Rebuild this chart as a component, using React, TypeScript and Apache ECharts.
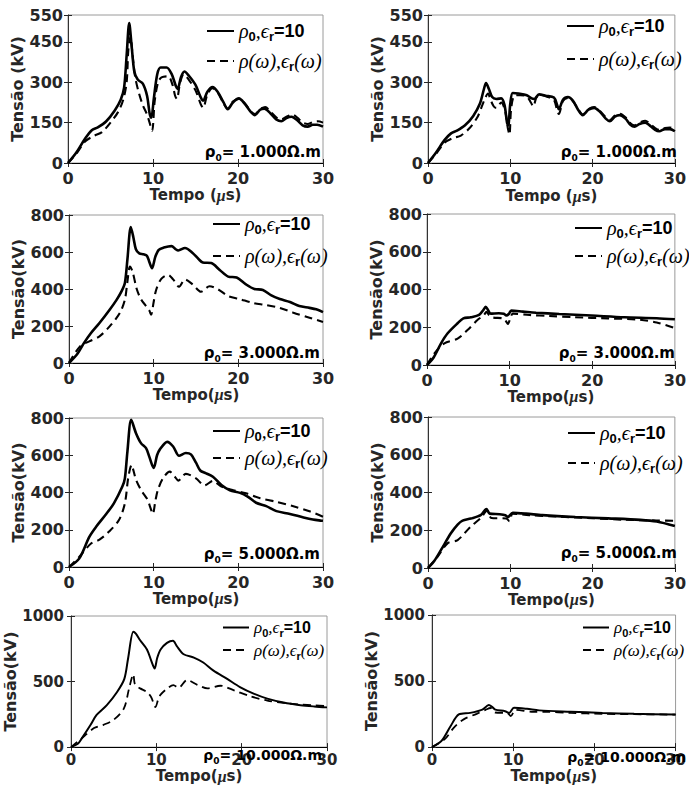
import React, { useEffect, useRef } from "react";
import * as echarts from "echarts";

// ---------- DATA (time in µs, voltage in kV) ----------
const X_TICKS = [0, 10, 20, 30];

const P1L_SOLID = [[0,0],[1,40],[2,90],[2.8,122],[3.5,132],[4.5,155],[5.5,195],[6.2,235],[6.6,280],[6.9,400],[7.2,520],[7.5,430],[7.8,340],[8.2,310],[8.8,295],[9.3,250],[9.6,185],[9.8,168],[10.1,240],[10.5,330],[10.9,355],[11.6,355],[12.2,330],[12.7,285],[12.9,275],[13.3,320],[13.7,340],[14.2,325],[15,290],[15.6,245],[15.9,232],[16.4,265],[17,282],[17.6,265],[18.3,225],[18.8,200],[19.4,225],[20.1,240],[20.8,220],[21.5,190],[22,178],[22.6,198],[23.1,202],[23.8,185],[24.5,162],[25.1,155],[25.7,167],[26.3,172],[27,158],[27.6,140],[28.2,135],[28.8,142],[29.3,142],[30,135]];
const P1L_DASHED = [[0,0],[1,35],[2,80],[3,100],[4,115],[5,150],[5.9,190],[6.5,235],[6.9,300],[7.1,420],[7.35,470],[7.6,400],[7.9,320],[8.3,265],[8.8,215],[9.3,180],[9.6,150],[9.9,120],[10.2,230],[10.6,300],[11,318],[11.8,322],[12.3,290],[12.6,250],[12.8,238],[13.2,300],[13.6,330],[14.2,310],[15,270],[15.6,220],[15.9,205],[16.4,255],[17,278],[17.6,262],[18.3,222],[18.8,202],[19.4,228],[20.1,238],[20.8,222],[21.5,192],[22,182],[22.6,200],[23.2,208],[23.8,192],[24.5,170],[25.1,162],[25.7,172],[26.4,180],[27,168],[27.6,150],[28.2,145],[28.8,152],[29.4,155],[30,150]];

const P1R_SOLID = [[0,0],[1,40],[2,85],[2.8,110],[3.5,120],[4.5,140],[5.5,175],[6.3,220],[6.8,275],[7.05,297],[7.4,275],[7.8,245],[8.3,238],[8.9,240],[9.3,215],[9.6,150],[9.75,140],[10,220],[10.3,260],[11,258],[12,252],[12.6,240],[12.9,238],[13.5,255],[14.3,250],[15.3,243],[15.7,215],[15.9,200],[16.4,235],[17,245],[17.6,232],[18.3,195],[18.8,178],[19.5,198],[20.2,205],[20.9,190],[21.6,165],[22.1,155],[22.7,172],[23.3,178],[24,165],[24.6,142],[25.1,135],[25.7,145],[26.4,150],[27,138],[27.6,123],[28.1,118],[28.8,126],[29.4,126],[30,118]];
const P1R_DASHED = [[0,0],[1,35],[2,75],[3,92],[4,102],[5,128],[6,170],[6.6,215],[7,245],[7.3,258],[7.6,235],[8,210],[8.3,205],[8.9,225],[9.4,190],[9.7,130],[9.9,105],[10.1,200],[10.5,250],[11.2,252],[12,248],[12.5,225],[12.8,210],[13.2,245],[13.8,252],[14.6,245],[15.3,235],[15.7,195],[15.9,182],[16.4,230],[17,242],[17.6,230],[18.3,198],[18.8,180],[19.5,200],[20.2,208],[20.9,193],[21.6,170],[22.1,160],[22.7,176],[23.3,183],[24,170],[24.6,148],[25.1,140],[25.7,150],[26.4,157],[27,145],[27.6,130],[28.1,123],[28.8,130],[29.4,132],[30,125]];

const P2L_SOLID = [[0,0],[1,50],[1.8,110],[2.6,162],[3.6,216],[4.8,288],[5.6,340],[6.2,387],[6.6,432],[6.9,560],[7.3,735],[7.6,680],[7.9,615],[8.3,593],[8.8,588],[9.2,580],[9.5,545],[9.8,512],[10.2,575],[10.6,612],[11.2,624],[12.1,632],[12.6,615],[12.9,608],[13.7,622],[14.6,595],[15.3,562],[15.8,543],[16.8,540],[17.8,503],[18.8,467],[19.8,462],[20.9,425],[21.9,400],[22.9,395],[23.9,365],[24.9,346],[26.1,330],[27.2,308],[28.4,298],[29.2,290],[30,275]];
const P2L_DASHED = [[0,0],[1.3,90],[2.4,117],[3.6,144],[4.8,198],[6,270],[6.6,342],[6.9,440],[7.2,521],[7.5,495],[8,400],[8.5,345],[9.1,308],[9.5,282],[9.7,261],[10,330],[10.3,396],[10.9,455],[11.7,476],[12.3,452],[13,412],[13.7,452],[14.6,425],[15.6,385],[16.6,415],[17.6,398],[18.8,362],[20.2,345],[21.7,325],[23.3,313],[24.9,298],[26.5,272],[28.4,245],[30,222]];

const P2R_SOLID = [[0,0],[0.8,40],[1.7,115],[2.5,168],[3.7,221],[4.4,247],[5.3,253],[6.3,265],[6.8,290],[7.1,308],[7.4,290],[7.7,272],[8.7,274],[9.3,272],[9.6,262],[9.9,270],[10.2,288],[11.6,283],[13.2,277],[16,270],[19.9,262],[23.9,253],[27.8,248],[30,242]];
const P2R_DASHED = [[0,0],[0.9,62],[2.1,115],[3.7,140],[4.9,185],[6.1,238],[6.9,265],[7.2,282],[7.5,265],[7.9,252],[9.2,247],[9.5,235],[9.8,218],[10.1,250],[10.4,272],[12.4,265],[14.8,260],[17.9,253],[21.9,247],[25.8,240],[27.8,225],[30,195]];

const P3L_SOLID = [[0,0],[1.2,45],[2.4,162],[3.2,216],[4.3,279],[5.3,342],[6.3,432],[6.6,476],[6.9,620],[7.35,790],[7.9,720],[8.5,665],[9.1,638],[9.5,590],[10,532],[10.4,600],[10.7,629],[11.6,672],[12.3,647],[13,597],[13.8,612],[14.4,605],[15,560],[15.5,518],[16.2,503],[17,485],[18,440],[19,412],[20.2,398],[21.1,378],[22.1,345],[23.3,327],[24.5,300],[26.1,285],[27.7,266],[28.8,255],[30,248]];
const P3L_DASHED = [[0,0],[1.2,54],[2.6,126],[3.6,147],[4.7,189],[5.9,252],[6.6,342],[7,480],[7.4,548],[7.6,520],[7.9,470],[8.5,414],[9.3,360],[9.6,320],[9.9,285],[10.2,355],[10.5,414],[11.1,476],[11.9,512],[12.5,485],[12.9,464],[13.8,500],[15,476],[16,438],[17,462],[18,432],[19.4,412],[20.9,396],[22.5,370],[24.5,350],[26.5,326],[28.5,298],[30,270]];

const P3R_SOLID = [[0,0],[0.8,40],[1.6,97],[2.8,185],[3.6,230],[4.2,251],[5.2,262],[6.4,280],[7.1,312],[7.5,288],[8.7,285],[9.4,280],[9.7,270],[10.3,292],[11.9,288],[13.9,280],[17.9,270],[21.9,263],[25.8,255],[27.8,246],[30,222]];
const P3R_DASHED = [[0,0],[1.2,62],[2.4,132],[3.6,148],[5.2,220],[6.4,264],[7.2,305],[7.7,265],[9.5,262],[9.9,248],[10.3,288],[12.3,280],[15.9,272],[19.9,264],[23.8,256],[27.8,252],[30,250]];

const P4L_SOLID = [[0,0],[0.8,25],[1.3,70],[2.3,170],[3,245],[4.2,320],[5.4,420],[6.25,520],[6.7,680],[7.3,880],[7.6,865],[8.1,815],[8.9,745],[9.4,660],[9.8,600],[10.1,680],[10.5,745],[11.25,795],[11.95,812],[12.4,770],[13.2,708],[14.4,683],[15.5,645],[16.7,583],[18.3,520],[19.8,458],[21.4,408],[23,370],[24.9,340],[26.9,320],[28.5,310],[30,303]];
const P4L_DASHED = [[0,0],[1.1,58],[2.7,145],[3.8,170],[5,208],[6.2,295],[6.8,445],[7.3,555],[7.5,478],[8.1,448],[8.9,420],[9.4,380],[9.9,305],[10.2,360],[10.5,400],[11.25,445],[12,472],[12.6,452],[13.6,512],[14.8,475],[16,448],[17.5,468],[19.1,433],[21,388],[23,355],[24.9,337],[26.9,325],[28.5,318],[30,312]];

const P4R_SOLID = [[0,0],[1.2,49],[2.3,160],[3.3,247],[4.7,259],[6.2,284],[7,318],[7.4,305],[7.8,284],[9,272],[9.5,259],[10.1,298],[11.7,290],[13.2,278],[17.1,268],[21,259],[24.9,252],[30,247]];
const P4R_DASHED = [[0,0],[1.6,62],[2.7,148],[3.9,210],[5.5,252],[6.6,282],[7.2,296],[7.8,262],[9.3,258],[9.7,235],[10.3,282],[12.5,267],[14,267],[17.1,259],[21,252],[30,246]];

const Y_MAX = [550, 550, 800, 800, 800, 800, 1000, 1000];
const Y_INTERVAL = [150, 150, 200, 200, 200, 200, 500, 500];
const RESISTIVITY = ["1.000", "1.000", "3.000", "3.000", "5.000", "5.000", "10.000", "10.000"];
const Y_NAMES = ["Tensão (kV)", "Tensão (kV)", "Tensão(kV)", "Tensão(kV)", "Tensão(kV)", "Tensão(kV)", "Tensão(kV)", "Tensão(kV)"];
const X_NAMES = ["Tempo (", "Tempo (", "Tempo(", "Tempo(", "Tempo(", "Tempo(", "Tempo(", "Tempo("];

const SOLIDS = [P1L_SOLID, P1R_SOLID, P2L_SOLID, P2R_SOLID, P3L_SOLID, P3R_SOLID, P4L_SOLID, P4R_SOLID];
const DASHEDS = [P1L_DASHED, P1R_DASHED, P2L_DASHED, P2R_DASHED, P3L_DASHED, P3R_DASHED, P4L_DASHED, P4R_DASHED];

// ---------- LAYOUT (pixels) ----------
const LAYOUT = [
  { left: 68, top: 15, width: 255, height: 148, yGap: 40, xGap: 24, leg: [206, 21, 8], ann: [321, 152], small: false },
  { left: 428, top: 15, width: 252, height: 148, yGap: 40, xGap: 25, leg: [566, 16, 11], ann: [677, 152], small: false },
  { left: 69, top: 215, width: 254, height: 148, yGap: 40, xGap: 22, leg: [212, 214, 10], ann: [320, 353], small: false },
  { left: 427, top: 214, width: 253, height: 151, yGap: 40, xGap: 21, leg: [574, 218, 6], ann: [675, 353], small: false },
  { left: 69, top: 418, width: 254, height: 149, yGap: 40, xGap: 22, leg: [212, 421, 5], ann: [320, 554], small: false },
  { left: 428, top: 417, width: 252, height: 151, yGap: 40, xGap: 22, leg: [567, 423, 8], ann: [677, 553], small: false },
  { left: 71, top: 616, width: 256, height: 133, yGap: 46, xGap: 20, leg: [222, 619, 3], ann: [322, 755], small: true },
  { left: 432, top: 615, width: 256, height: 135, yGap: 50, xGap: 20, leg: [582, 619, 3], ann: [686, 757], small: true },
];

const SANS = "'Liberation Sans', Arial, sans-serif";
const WIDE = "'DejaVu Sans', 'Liberation Sans', sans-serif";
const SERIF = "'Liberation Serif', 'DejaVu Serif', serif";
const INK = "#262626";

function buildOption() {
  const grid: any[] = [];
  const xAxis: any[] = [];
  const yAxis: any[] = [];
  const series: any[] = [];
  const legend: any[] = [];
  const graphic: any[] = [];

  LAYOUT.forEach((L, i) => {
    const labelSize = L.small ? 15 : 16;
    grid.push({
      left: L.left, top: L.top, width: L.width, height: L.height,
      show: true, borderColor: "#9a9a9a", borderWidth: 1, backgroundColor: "transparent",
    });
    xAxis.push({
      type: "value", gridIndex: i, min: 0, max: 30, interval: 10,
      name: X_NAMES[i] + "{m|μ}s)",
      nameLocation: "middle", nameGap: L.xGap,
      nameTextStyle: {
        fontFamily: WIDE, fontWeight: "bold", fontSize: 15, color: INK,
        rich: { m: { fontFamily: SERIF, fontStyle: "italic", fontSize: 16, color: INK } },
      },
      axisLine: { show: true, lineStyle: { color: "#000", width: 1 } },
      axisTick: { show: true, inside: true, length: 4, lineStyle: { color: INK } },
      axisLabel: { fontFamily: WIDE, fontWeight: "bold", fontSize: labelSize, color: INK, margin: L.small ? 5 : 7, formatter: (v: number) => String(v) },
      splitLine: { show: false },
    });
    xAxis.push({
      type: "value", gridIndex: i, min: 0, max: 30, interval: 10, position: "top",
      axisLine: { show: false }, axisLabel: { show: false }, splitLine: { show: false },
      axisTick: { show: true, inside: true, length: 4, lineStyle: { color: INK } },
    });
    yAxis.push({
      type: "value", gridIndex: i, min: 0, max: Y_MAX[i], interval: Y_INTERVAL[i],
      name: Y_NAMES[i], nameLocation: "middle", nameGap: L.yGap,
      nameTextStyle: { fontFamily: WIDE, fontWeight: "bold", fontSize: 16, color: INK },
      axisLine: { show: true, lineStyle: { color: "#8a8a8a", width: 1 } },
      axisTick: { show: true, inside: true, length: 4, lineStyle: { color: INK } },
      axisLabel: { fontFamily: WIDE, fontWeight: "bold", fontSize: labelSize, color: INK, margin: L.small ? 7 : 5, showMaxLabel: true, formatter: (v: number) => String(v) },
      splitLine: { show: false },
    });
    yAxis.push({
      type: "value", gridIndex: i, min: 0, max: Y_MAX[i], interval: Y_INTERVAL[i], position: "right",
      axisLine: { show: true, lineStyle: { color: "#333", width: 1 } },
      axisLabel: { show: false }, splitLine: { show: false },
      axisTick: { show: true, inside: true, length: 4, lineStyle: { color: INK } },
    });
    const sw = L.small ? 2 : 2.6;
    const dw = L.small ? 1.8 : 2.1;
    series.push({
      name: "S" + i, type: "line", xAxisIndex: 2 * i, yAxisIndex: 2 * i,
      data: SOLIDS[i], showSymbol: false, symbol: "none", smooth: 0.3,
      lineStyle: { color: "#000", width: sw, type: "solid" }, itemStyle: { color: "#000" },
    });
    series.push({
      name: "D" + i, type: "line", xAxisIndex: 2 * i, yAxisIndex: 2 * i,
      data: DASHEDS[i], showSymbol: false, symbol: "none", smooth: 0.3,
      lineStyle: { color: "#000", width: dw, type: [8, 5] }, itemStyle: { color: "#000" },
    });
    const k = L.small ? "2" : "";
    legend.push({
      orient: "vertical", left: L.leg[0], top: L.leg[1], itemGap: L.leg[2],
      itemWidth: L.small ? 26 : 27, itemHeight: 14, padding: 0, selectedMode: false,
      itemStyle: { opacity: 0, borderWidth: 0 },
      data: ["S" + i, "D" + i],
      formatter: (name: string) =>
        name.charAt(0) === "S"
          ? `{g${k}|ρ}{s${k}|0}{g${k}|,ϵ}{s${k}|r}{b${k}|=10}`
          : `{g${k}|ρ(ω),ϵ}{s${k}|r}{g${k}|(ω)}`,
      textStyle: {
        color: "#000",
        rich: {
          g: { fontFamily: SERIF, fontStyle: "italic", fontSize: 20, lineHeight: 24, color: "#000" },
          b: { fontFamily: SANS, fontWeight: "bold", fontSize: 18, lineHeight: 24, color: "#000" },
          s: { fontFamily: SANS, fontWeight: "bold", fontSize: 13, lineHeight: 12, verticalAlign: "bottom", color: "#000" },
          g2: { fontFamily: SERIF, fontStyle: "italic", fontSize: 17, lineHeight: 22, color: "#000" },
          b2: { fontFamily: SANS, fontWeight: "bold", fontSize: 16, lineHeight: 22, color: "#000" },
          s2: { fontFamily: SANS, fontWeight: "bold", fontSize: 11, lineHeight: 11, verticalAlign: "bottom", color: "#000" },
        },
      },
    });
    graphic.push({
      type: "text", x: L.ann[0], y: L.ann[1], z: 100,
      style: {
        text: `{r|ρ}{s|0}{r|= ${RESISTIVITY[i]}Ω.m}`,
        align: "right", verticalAlign: "middle",
        rich: {
          r: { fontFamily: WIDE, fontWeight: "bold", fontSize: L.small ? 14 : 15, lineHeight: 20, fill: "#000", color: "#000" },
          s: { fontFamily: WIDE, fontWeight: "bold", fontSize: 9, lineHeight: 10, verticalAlign: "bottom", fill: "#000", color: "#000" },
        },
      },
    });
  });

  return {
    animation: false,
    backgroundColor: "#fff",
    grid, xAxis, yAxis, series, legend, graphic,
  };
}

export default function App() {
  const ref = useRef<HTMLDivElement>(null);
  useEffect(() => {
    if (!ref.current) return;
    const chart = echarts.init(ref.current, undefined, { renderer: "svg" });
    chart.setOption(buildOption() as any);
    return () => chart.dispose();
  }, []);
  return (
    <div
      ref={ref}
      style={{ position: "absolute", left: 0, top: 0, width: 689, height: 785, background: "#fff" }}
    />
  );
}
